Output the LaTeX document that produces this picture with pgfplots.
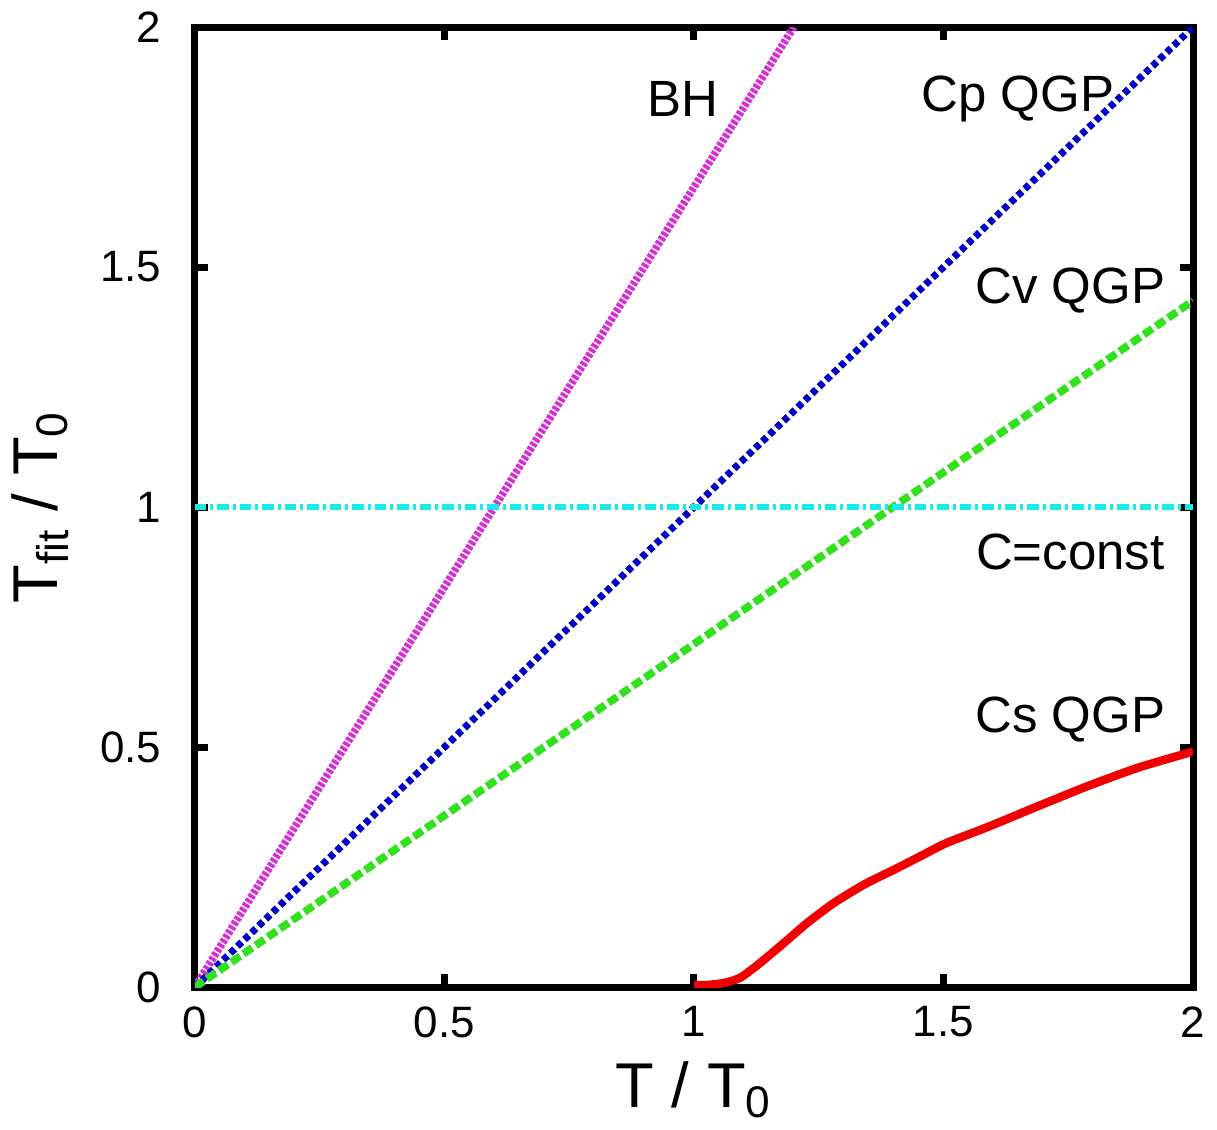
\documentclass[border=0pt]{standalone}
\usepackage{fontspec}
\setmainfont{Liberation Sans}
\usepackage{pgfplots}
\pgfplotsset{compat=1.18}
\definecolor{bhmag}{RGB}{215,45,215}
\definecolor{cpblue}{RGB}{0,0,200}
\definecolor{cvgreen}{RGB}{50,225,30}
\definecolor{ccyan}{RGB}{25,235,235}
\definecolor{csred}{RGB}{240,0,0}

\begin{document}
\begin{tikzpicture}
\begin{axis}[
  width=9.98cm, height=9.6cm, scale only axis,
  xmin=0, xmax=2, ymin=0, ymax=2,
  xtick={0,0.5,1,1.5,2}, ytick={0,0.5,1,1.5,2},
  xticklabels={0,0.5,1,1.5,2}, yticklabels={0,0.5,1,1.5,2},
  axis line style={line width=2pt},
  major tick style={line width=2pt, black},
  major tick length=0.13cm,
  tick align=inside,
  ticklabel style={font=\fontsize{12.5}{14}\selectfont},
  /pgf/number format/assume math mode=true,
  xticklabel style={yshift=-2pt},
  yticklabel style={xshift=-6pt},
  xlabel={T / T\textsubscript{0}},
  ylabel={T\textsubscript{fit} / T\textsubscript{0}},
  label style={font=\fontsize{18}{20}\selectfont},
  xlabel style={yshift=0pt},
  ylabel style={yshift=2pt},
  clip=true,
]
% BH
\addplot[bhmag, line width=2.2pt, dash pattern=on 1pt off 0.5pt] coordinates {(0,0) (1.2,2)};
% Cp QGP
\addplot[cpblue, line width=2pt, dash pattern=on 1.7pt off 1.1pt] coordinates {(0,0) (2,2)};
% Cv QGP
\addplot[cvgreen, line width=2.2pt, dash pattern=on 3pt off 1.2pt] coordinates {(0,0) (2,1.43)};
% C=const
\addplot[ccyan, line width=1.6pt, dash pattern=on 3.2pt off 1.2pt on 0.8pt off 1.2pt] coordinates {(0,1) (2,1)};
% Cs QGP
\addplot[csred, line width=2.4pt, smooth, tension=0.4] coordinates {
  (1.0,0.004) (1.03,0.005) (1.060,0.009) (1.093,0.020) (1.133,0.051)
  (1.180,0.092) (1.227,0.134) (1.281,0.176) (1.341,0.214) (1.401,0.245)
  (1.454,0.273) (1.505,0.300) (1.589,0.334) (1.689,0.377) (1.789,0.419)
  (1.889,0.457) (1.990,0.488) (2.0,0.491)};
\node[font=\fontsize{14.5}{16}\selectfont] at (axis cs:0.978,1.85) {BH};
\node[font=\fontsize{14.5}{16}\selectfont] at (axis cs:1.649,1.85) {Cp QGP};
\node[font=\fontsize{14.5}{16}\selectfont] at (axis cs:1.754,1.452) {Cv QGP};
\node[font=\fontsize{14.5}{16}\selectfont] at (axis cs:1.754,0.906) {C=const};
\node[font=\fontsize{14.5}{16}\selectfont] at (axis cs:1.754,0.558) {Cs QGP};
\end{axis}
\end{tikzpicture}
\end{document}
